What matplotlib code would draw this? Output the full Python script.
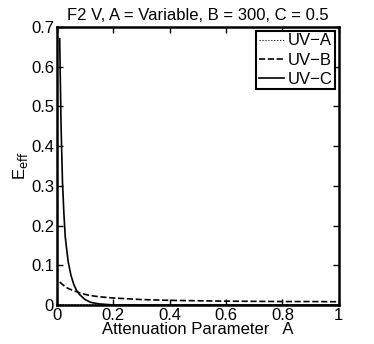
import matplotlib
matplotlib.use("Agg")
import matplotlib.pyplot as plt
import numpy as np

plt.rcParams['font.family'] = ['Liberation Sans', 'DejaVu Sans']

# values
a_vals = [0.01, 0.015, 0.02, 0.025, 0.03, 0.04, 0.05, 0.06, 0.07, 0.08,
          0.1, 0.12, 0.15, 0.2, 0.3, 0.4, 0.5, 0.6, 0.7, 0.8, 0.9, 1.0]
uv_a = [0.001, 0.001, 0.001, 0.001, 0.001, 0.001, 0.001, 0.001, 0.001, 0.001,
        0.0008, 0.0007, 0.0006, 0.0005, 0.0004, 0.0003, 0.0003, 0.0003, 0.0003, 0.0003, 0.0003, 0.0003]
uv_b = [0.058, 0.055, 0.052, 0.049, 0.046, 0.042, 0.039, 0.036, 0.034, 0.031,
        0.027, 0.024, 0.021, 0.018, 0.014, 0.012, 0.011, 0.010, 0.0095, 0.009, 0.009, 0.0085]
uv_c = [0.67, 0.45, 0.31, 0.23, 0.17, 0.11, 0.075, 0.052, 0.037, 0.027,
        0.014, 0.007, 0.003, 0.0005, 0.0, 0.0, 0.0, 0.0, 0.0, 0.0, 0.0, 0.0]

fig = plt.figure(figsize=(3.74, 3.44), dpi=100)
ax = fig.add_axes([0.152, 0.113, 0.754, 0.809])

ax.plot(a_vals, uv_a, color='black', linestyle=':', linewidth=0.8, label='UV\u2212A')
ax.plot(a_vals, uv_b, color='black', linestyle='--', linewidth=1.2, label='UV\u2212B')
ax.plot(a_vals, uv_c, color='black', linestyle='-', linewidth=1.2, label='UV\u2212C')

ax.set_xlim(0, 1)
ax.set_ylim(0, 0.7)
ax.set_xticks([0, 0.2, 0.4, 0.6, 0.8, 1])
ax.set_xticklabels(['0', '0.2', '0.4', '0.6', '0.8', '1'])
ax.set_yticks([0, 0.1, 0.2, 0.3, 0.4, 0.5, 0.6, 0.7])
ax.set_yticklabels(['0', '0.1', '0.2', '0.3', '0.4', '0.5', '0.6', '0.7'])
ax.tick_params(direction='in', top=True, right=True, labelsize=12, length=4, width=1, pad=2)
for s in ax.spines.values():
    s.set_linewidth(1.8)

ax.set_title('F2 V, A = Variable, B = 300, C = 0.5', fontsize=12, pad=5)
ax.set_xlabel('Attenuation Parameter   A', fontsize=12, labelpad=-1)
ax.set_ylabel('E$_{\\mathrm{eff}}$', fontsize=12, labelpad=1)

leg = ax.legend(loc='upper right', fontsize=12, frameon=True, fancybox=False,
                borderpad=0.15, labelspacing=0.25, handlelength=1.5, handletextpad=0.2,
                borderaxespad=0.25)
leg.get_frame().set_edgecolor('black')
leg.get_frame().set_linewidth(1.5)
leg.get_frame().set_alpha(1)

fig.savefig('out.png', dpi=100)
